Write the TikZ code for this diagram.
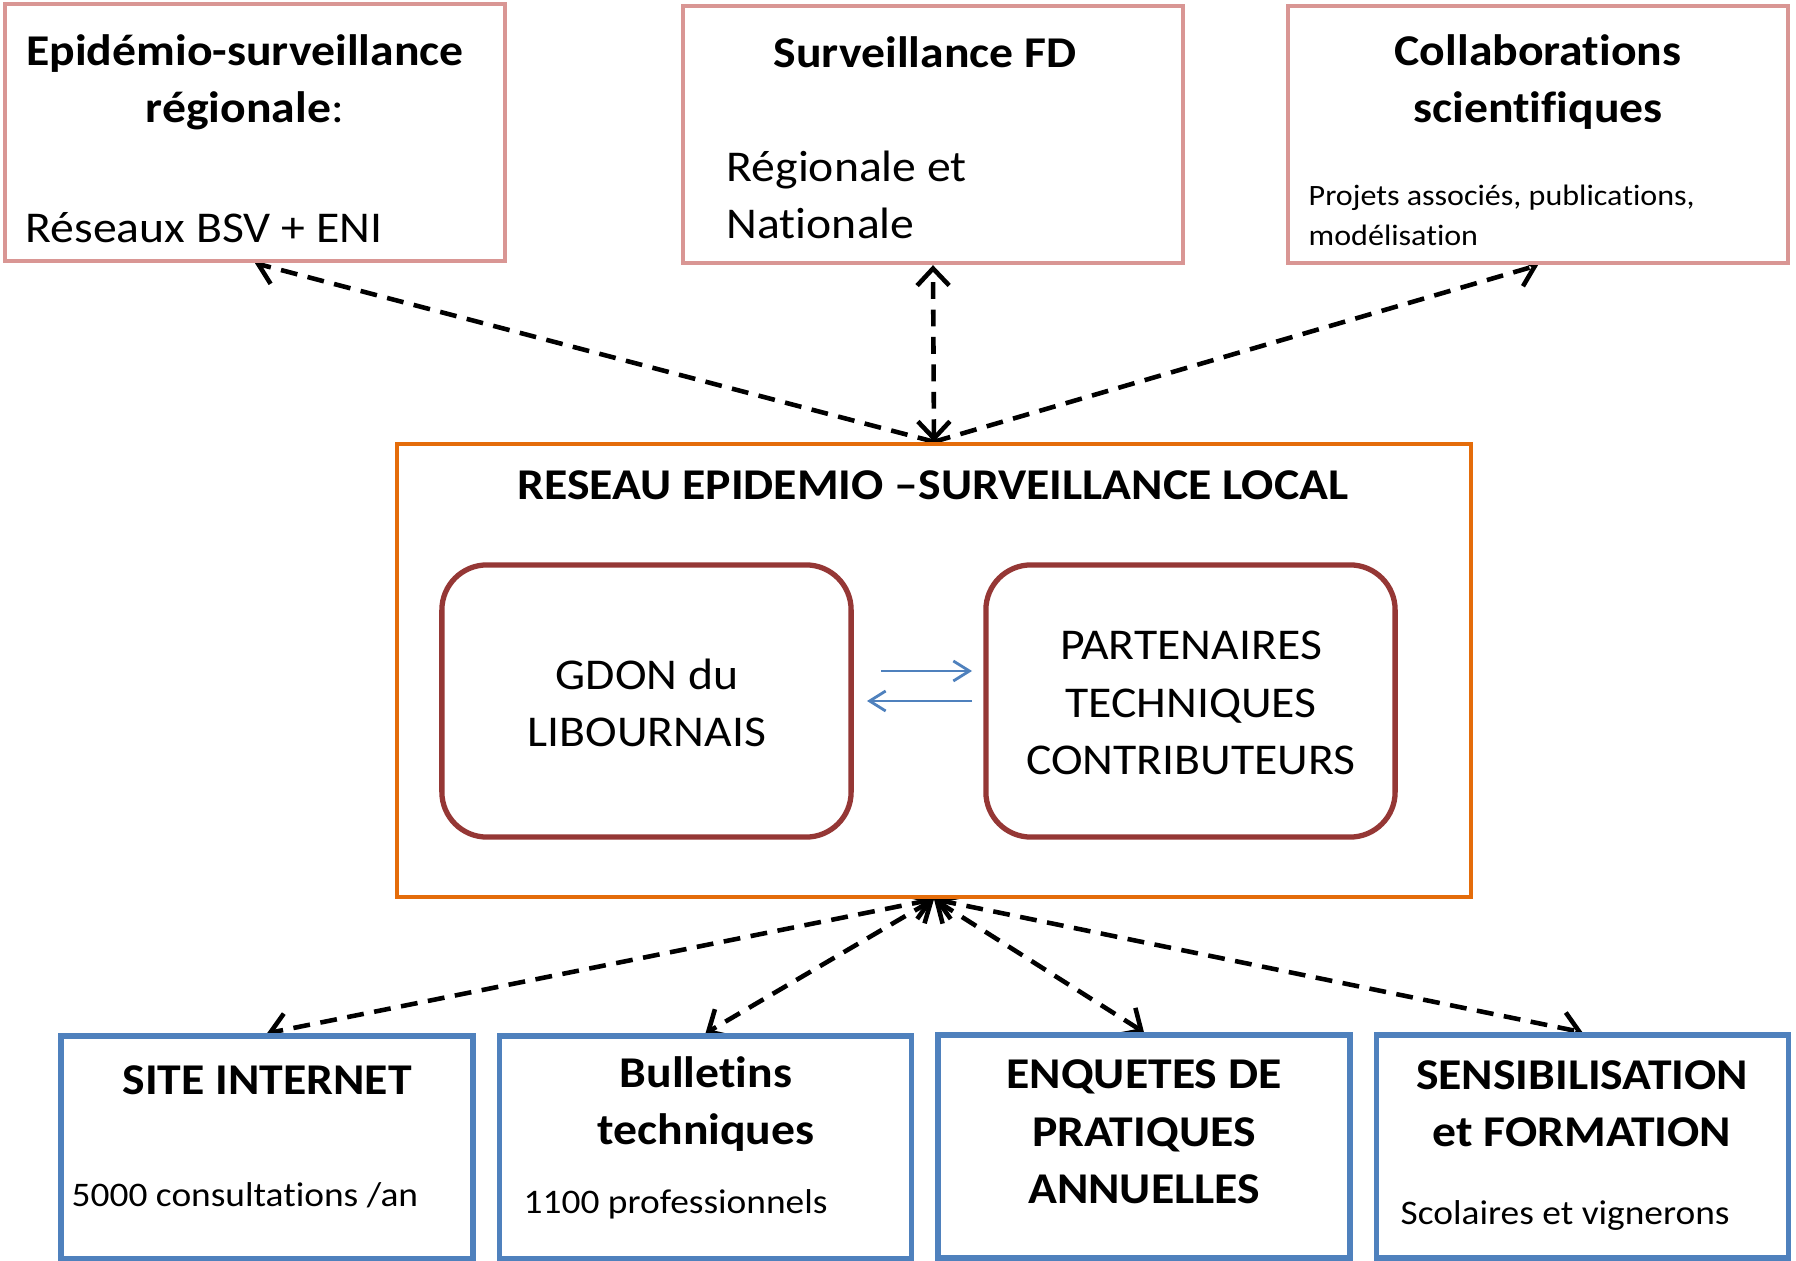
\documentclass[tikz,border=0pt]{standalone}
\usepackage{fontspec}
\setmainfont[FakeStretch=1.085, Ligatures=NoCommon]{Carlito}
\usetikzlibrary{arrows.meta}
\usetikzlibrary{backgrounds}
\usetikzlibrary{positioning}

\definecolor{pinkline}{RGB}{217,150,148}
\definecolor{orangeline}{RGB}{228,108,10}
\definecolor{redline}{RGB}{149,55,53}
\definecolor{blueline}{RGB}{79,129,189}

\tikzset{
  pinkbox/.style={draw=pinkline, fill=white, line width=1.2pt, minimum width=5cm, minimum height=2.57cm, inner sep=0pt},
  localbox/.style={draw=orangeline, fill=white, line width=1.2pt, minimum width=10.74cm, minimum height=4.53cm, inner sep=0pt},
  actorbox/.style={draw=redline, line width=1.5pt, rounded corners=0.45cm, minimum width=4.09cm, minimum height=2.72cm, inner sep=0pt},
  bluebox/.style={draw=blueline, fill=white, line width=1.5pt, minimum width=4.12cm, minimum height=2.23cm, inner sep=0pt},
  big/.style={font=\fontsize{12.5}{16.3}\selectfont, align=center, inner sep=0pt},
  bigleft/.style={font=\fontsize{12.5}{16.3}\selectfont, align=left, anchor=west, inner sep=0pt},
  small/.style={font=\fontsize{9.8}{13}\selectfont, align=left, anchor=west, inner sep=0pt},
  tiny/.style={font=\fontsize{8.4}{11.3}\selectfont, align=left, anchor=west, inner sep=0pt},
  dasharrow/.style={line width=1.3pt, dash pattern=on 4.8pt off 3pt, >={Straight Barb[length=1.7mm,width=3.2mm]}},
  flow/.style={draw=blueline, line width=0.8pt, ->, >={Straight Barb[length=1.6mm,width=2mm]}}
}

\begin{document}
\begin{tikzpicture}[x=0.01cm, y=-0.01cm]
  \useasboundingbox (0,0) rectangle (1796,1261);

  % top boxes
  \node[pinkbox] at (255,132.5) (epi){};
  \node[pinkbox] at (933,134.5) (fd){};
  \node[pinkbox] at (1538,134.5) (collab){};
  \node[big] at (245,82) (epititle){\bfseries Epidémio-surveillance\\\textbf{régionale}\mdseries:};
  \node[bigleft] at (25,228) (epitext){Réseaux BSV + ENI};
  \node[big] at (925,52) (fdtitle){\bfseries Surveillance FD};
  \node[bigleft] at (726,195) (fdtext){Régionale et\\Nationale};
  \node[big] at (1538,82) (collabtitle){\bfseries Collaborations\\\bfseries scientifiques};
  \node[tiny] at (1308,215) (collabtext){Projets associés, publications,\\modélisation};

  % local network
  \node[localbox] at (934,670.5) (local){};
  \node[big] at (933,485) (localtitle){\bfseries RESEAU EPIDEMIO –SURVEILLANCE LOCAL};
  \node[actorbox] at (646.5,701) (gdon){};
  \node[actorbox] at (1190.5,701) (partners){};
  \node[big] at (647,703) (gdontext){GDON du\\LIBOURNAIS};
  \node[big] at (1191,703) (partnerstext){PARTENAIRES\\TECHNIQUES\\CONTRIBUTEURS};
  \coordinate (fwdstart) at (881,671);
  \coordinate (fwdend) at (972,671);
  \coordinate (backstart) at (972,701);
  \coordinate (backend) at (867,701);
  \draw[flow] (fwdstart) -- (fwdend);
  \draw[flow] (backstart) -- (backend);

  % bottom boxes
  \node[bluebox] at (267,1147.5) (site){};
  \node[bluebox] at (705.5,1147.5) (bulletins){};
  \node[bluebox] at (1144,1146.5) (enquetes){};
  \node[bluebox] at (1582.5,1146.5) (sensib){};
  \node[big] at (267,1080) (sitetitle){\bfseries SITE INTERNET};
  \node[small] at (71,1195) (sitetext){5000 consultations /an};
  \node[big] at (706,1104) (bulletinstitle){\bfseries Bulletins\\\bfseries techniques};
  \node[small] at (523,1204) (bulletinstext){1100 professionnels};
  \node[big] at (1144,1132) (enquetestitle){\bfseries ENQUETES DE\\\bfseries PRATIQUES\\\bfseries ANNUELLES};
  \node[big] at (1582,1104) (sensibtitle){\bfseries SENSIBILISATION\\\bfseries et FORMATION};
  \node[small] at (1400,1215) (sensibtext){Scolaires et vignerons};

  % links, behind the boxes
  \begin{scope}[on background layer]
  \draw[dasharrow,->] (local.north) -- (epi.south);
  \draw[dasharrow,<->] (local.north) -- (fd.south);
  \draw[dasharrow,->] (local.north) -- (collab.south);
  \draw[dasharrow,<->] (local.south) -- (site.north);
  \draw[dasharrow,<->] (local.south) -- (bulletins.north);
  \draw[dasharrow,<->] (local.south) -- (enquetes.north);
  \draw[dasharrow,<->] (local.south) -- (sensib.north);
  \end{scope}
\end{tikzpicture}
\end{document}
